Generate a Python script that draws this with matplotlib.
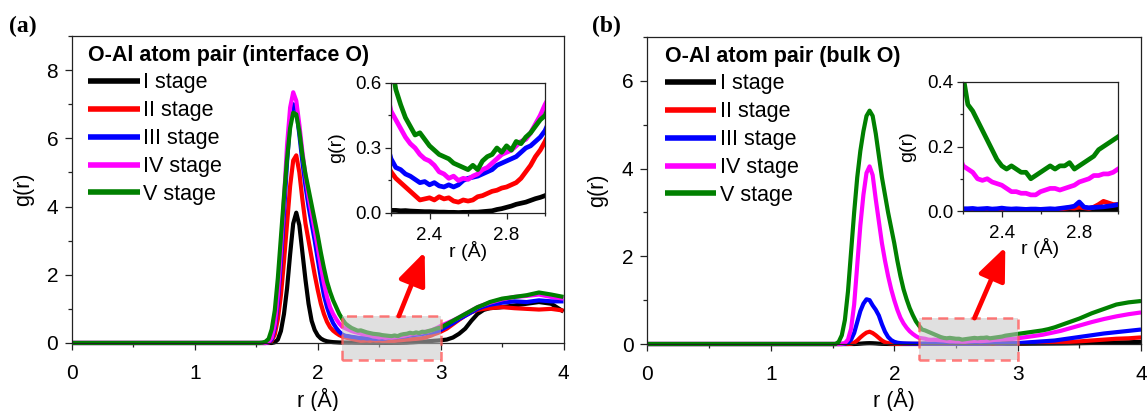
import numpy as np
import matplotlib
matplotlib.use("Agg")
import matplotlib.pyplot as plt
from matplotlib.patches import Rectangle
from matplotlib.ticker import MultipleLocator, FixedLocator

plt.rcParams['font.family'] = ['Liberation Sans', 'DejaVu Sans']

# shared r grid (Angstrom)
r = [0.0, 1.5, 1.525, 1.55, 1.575,
     1.6, 1.625, 1.65, 1.675, 1.7, 1.725, 1.75, 1.775, 1.8, 1.825, 1.85, 1.875, 1.9,
     1.925, 1.95, 1.975, 2.0, 2.025, 2.05, 2.075, 2.1, 2.125, 2.15, 2.175, 2.2,
     2.225, 2.25, 2.275, 2.3, 2.325, 2.35, 2.375, 2.4, 2.425, 2.45, 2.475, 2.5,
     2.525, 2.55, 2.575, 2.6, 2.625, 2.65, 2.675, 2.7, 2.725, 2.75, 2.775, 2.8,
     2.825, 2.85, 2.875, 2.9, 2.925, 2.95, 2.975, 3.0,
     3.05, 3.1, 3.15, 3.2, 3.25, 3.3, 3.35, 3.4, 3.5, 3.6, 3.7, 3.8, 3.9, 4.0]

stages = ['I stage', 'II stage', 'III stage', 'IV stage', 'V stage']
colors = ['black', '#ff0000', '#0000ff', '#ff00ff', '#008000']

# (a) interface O
ga_I = [0, 0, 0, 0, 0,
        0, 0, 0.02, 0.1, 0.35, 0.85, 1.6, 2.6, 3.5, 3.82, 3.45, 2.65, 1.85, 1.15, 0.65, 0.38,
        0.22, 0.13, 0.08, 0.05, 0.035, 0.025, 0.02, 0.015, 0.012,
        0.012, 0.01, 0.011, 0.009, 0.008, 0.007, 0.006, 0.006, 0.005, 0.004, 0.004, 0.003,
        0.003, 0.002, 0.003, 0.003, 0.004, 0.004, 0.006, 0.008, 0.01, 0.016, 0.02, 0.026,
        0.032, 0.04, 0.045, 0.05, 0.058, 0.066, 0.072, 0.08,
        0.1, 0.16, 0.27, 0.42, 0.65, 0.85, 0.97, 1.02, 1.05, 1.1, 1.15, 1.2, 1.15, 0.92]
ga_II = [0, 0, 0, 0, 0,
         0.01, 0.06, 0.25, 0.7, 1.4, 2.4, 3.5, 4.6, 5.35, 5.5, 5.0, 4.2, 3.5, 3.0, 2.5, 2.0,
         1.55, 1.15, 0.85, 0.62, 0.46, 0.36, 0.29, 0.23, 0.19,
         0.16, 0.14, 0.12, 0.1, 0.08, 0.06, 0.065, 0.07, 0.06, 0.075, 0.065, 0.07,
         0.055, 0.05, 0.06, 0.055, 0.06, 0.075, 0.08, 0.09, 0.1, 0.105, 0.115, 0.12,
         0.13, 0.14, 0.16, 0.19, 0.22, 0.26, 0.29, 0.33,
         0.42, 0.55, 0.68, 0.8, 0.9, 0.97, 1.0, 1.02, 1.05, 1.02, 1.0, 0.98, 1.0, 0.95]
ga_III = [0, 0, 0, 0, 0,
          0.02, 0.1, 0.45, 1.2, 2.4, 3.8, 5.3, 6.5, 7.0, 6.85, 6.1, 5.3, 4.6, 4.0, 3.5, 3.0,
          2.45, 1.9, 1.4, 1.05, 0.78, 0.58, 0.44, 0.33, 0.25,
          0.21, 0.2, 0.18, 0.17, 0.155, 0.14, 0.145, 0.13, 0.14, 0.125, 0.12, 0.13,
          0.12, 0.13, 0.15, 0.16, 0.165, 0.17, 0.18, 0.19, 0.2, 0.22, 0.23, 0.24,
          0.25, 0.26, 0.28, 0.3, 0.31, 0.33, 0.35, 0.38,
          0.48, 0.58, 0.7, 0.8, 0.9, 1.0, 1.07, 1.12, 1.18, 1.22, 1.2, 1.25, 1.22, 1.22]
ga_IV = [0, 0, 0, 0, 0,
         0.03, 0.15, 0.55, 1.4, 2.7, 4.2, 5.8, 6.9, 7.35, 7.1, 6.4, 5.6, 4.9, 4.3, 3.8, 3.3,
         2.8, 2.25, 1.75, 1.35, 1.05, 0.85, 0.7, 0.57, 0.47,
         0.43, 0.39, 0.35, 0.32, 0.3, 0.27, 0.25, 0.24, 0.22, 0.19, 0.18, 0.16,
         0.17, 0.15, 0.16, 0.155, 0.17, 0.18, 0.2, 0.21, 0.23, 0.25, 0.27, 0.28,
         0.29, 0.31, 0.33, 0.34, 0.37, 0.41, 0.45, 0.5,
         0.58, 0.66, 0.75, 0.85, 0.95, 1.05, 1.12, 1.18, 1.28, 1.35, 1.38, 1.42, 1.35, 1.3]
ga_V = [0, 0, 0, 0.01, 0.04,
        0.12, 0.4, 0.95, 1.9, 3.1, 4.3, 5.4, 6.3, 6.75, 6.7, 6.2, 5.5, 4.95, 4.5, 4.05, 3.6,
        3.15, 2.65, 2.2, 1.8, 1.5, 1.25, 1.05, 0.85, 0.7,
        0.57, 0.5, 0.44, 0.4, 0.36, 0.37, 0.34, 0.31, 0.29, 0.27, 0.26, 0.25,
        0.23, 0.22, 0.21, 0.2, 0.22, 0.2, 0.24, 0.26, 0.27, 0.3, 0.28, 0.31,
        0.29, 0.33, 0.32, 0.35, 0.37, 0.4, 0.43, 0.45,
        0.55, 0.65, 0.75, 0.85, 0.95, 1.05, 1.12, 1.2, 1.3, 1.35, 1.4, 1.48, 1.42, 1.35]

# (b) bulk O
gb_I = [0, 0, 0, 0, 0,
        0, 0, 0, 0, 0.003, 0.008, 0.014, 0.018, 0.02, 0.018, 0.014, 0.008, 0.004, 0.002, 0.001, 0,
        0, 0, 0, 0, 0, 0, 0, 0, 0,
        0.002, 0.002, 0.002, 0.002, 0.002, 0.002, 0.002, 0.002, 0.002, 0.002, 0.002, 0.002,
        0.002, 0.002, 0.002, 0.002, 0.002, 0.002, 0.002, 0.002, 0.002, 0.002, 0.002, 0.002,
        0.003, 0.003, 0.004, 0.004, 0.004, 0.005, 0.005, 0.005,
        0.006, 0.008, 0.009, 0.01, 0.011, 0.012, 0.013, 0.015, 0.02, 0.025, 0.03, 0.035, 0.04, 0.05]
gb_II = [0, 0, 0, 0, 0,
         0, 0, 0.005, 0.03, 0.08, 0.15, 0.21, 0.26, 0.28, 0.25, 0.2, 0.14, 0.08, 0.04, 0.02, 0.01,
         0.005, 0.003, 0.003, 0.003, 0.003, 0.003, 0.003, 0.003, 0.003,
         0.003, 0.004, 0.003, 0.004, 0.006, 0.004, 0.003, 0.003, 0.003, 0.004, 0.003, 0.003,
         0.004, 0.003, 0.003, 0.004, 0.003, 0.004, 0.005, 0.006, 0.008, 0.01, 0.009, 0.012,
         0.01, 0.008, 0.012, 0.02, 0.03, 0.025, 0.02, 0.02,
         0.02, 0.025, 0.027, 0.03, 0.032, 0.035, 0.04, 0.045, 0.06, 0.08, 0.1, 0.12, 0.13, 0.15]
gb_III = [0, 0, 0, 0, 0,
          0.005, 0.03, 0.1, 0.25, 0.5, 0.75, 0.92, 1.02, 1.0, 0.88, 0.78, 0.65, 0.45, 0.28, 0.16, 0.09,
          0.05, 0.03, 0.02, 0.015, 0.012, 0.01, 0.008, 0.007, 0.007,
          0.007, 0.008, 0.006, 0.007, 0.008, 0.006, 0.007, 0.009, 0.007, 0.006, 0.007, 0.006,
          0.005, 0.006, 0.006, 0.005, 0.006, 0.007, 0.006, 0.008, 0.01, 0.012, 0.015, 0.028,
          0.012, 0.01, 0.011, 0.012, 0.013, 0.015, 0.017, 0.02,
          0.03, 0.04, 0.05, 0.06, 0.07, 0.08, 0.1, 0.12, 0.16, 0.2, 0.24, 0.27, 0.3, 0.33]
gb_IV = [0, 0, 0, 0, 0.005,
         0.02, 0.1, 0.35, 0.9, 1.8, 2.7, 3.4, 3.9, 4.05, 3.85, 3.3, 2.8, 2.3, 1.9, 1.55, 1.25,
         1.0, 0.78, 0.6, 0.47, 0.37, 0.29, 0.23, 0.18, 0.14,
         0.13, 0.12, 0.1, 0.095, 0.1, 0.09, 0.085, 0.08, 0.07, 0.06, 0.06, 0.055,
         0.055, 0.05, 0.05, 0.06, 0.065, 0.07, 0.07, 0.065, 0.07, 0.075, 0.08, 0.09,
         0.095, 0.1, 0.11, 0.11, 0.115, 0.115, 0.12, 0.13,
         0.15, 0.17, 0.19, 0.21, 0.24, 0.27, 0.3, 0.34, 0.42, 0.5, 0.57, 0.63, 0.68, 0.72]
gb_V = [0, 0, 0, 0.05, 0.2,
        0.55, 1.2, 2.1, 3.0, 3.8, 4.4, 4.85, 5.2, 5.32, 5.2, 4.8, 4.3, 3.8, 3.4, 3.0, 2.65,
        2.3, 1.9, 1.55, 1.25, 1.02, 0.82, 0.66, 0.52, 0.42,
        0.33, 0.31, 0.28, 0.25, 0.22, 0.19, 0.16, 0.14, 0.13, 0.14, 0.13, 0.12,
        0.12, 0.1, 0.11, 0.12, 0.13, 0.14, 0.13, 0.14, 0.14, 0.15, 0.13, 0.14,
        0.15, 0.16, 0.17, 0.19, 0.2, 0.21, 0.22, 0.23,
        0.25, 0.27, 0.29, 0.31, 0.34, 0.38, 0.43, 0.48, 0.58, 0.7, 0.8, 0.9, 0.95, 0.98]


def style_axis(ax, size, major, minor, pad_x, pad_y):
    for s in ax.spines.values():
        s.set_linewidth(0.9)
        s.set_color('#222222')
    ax.tick_params(which='both', direction='out', top=False, right=False,
                   labelsize=size, width=0.9, color='#222222')
    ax.tick_params(which='major', length=major)
    ax.tick_params(which='minor', length=minor)
    ax.tick_params(axis='x', pad=pad_x)
    ax.tick_params(axis='y', pad=pad_y)


def panel(rect, irect, data, ymax, ystep, iymax, iystep, box_top, box_bot,
          tail, head, title, lx, ylab_x, xlab_y, iylab_x):
    ax = fig.add_axes(rect)
    for g, c, lab in zip(data, colors, stages):
        ax.plot(r, g, color=c, lw=3.0, label=lab, clip_on=False, solid_capstyle='butt')
    ax.set_xlim(0, 4)
    ax.set_ylim(0, ymax)
    ax.xaxis.set_major_locator(MultipleLocator(1))
    ax.xaxis.set_minor_locator(MultipleLocator(0.5))
    ax.yaxis.set_major_locator(MultipleLocator(ystep))
    ax.yaxis.set_minor_locator(MultipleLocator(ystep / 2))
    style_axis(ax, 15, 5, 3, 10, 5)
    ax.set_xlabel('r (Å)', fontsize=15.5)
    ax.set_ylabel('g(r)', fontsize=15.5)
    ax.xaxis.set_label_coords(0.5, xlab_y)
    ax.xaxis.label.set_va('center')
    ax.yaxis.set_label_coords(ylab_x, 0.5)
    ax.yaxis.label.set_va('center')

    leg = ax.legend(loc='upper left', bbox_to_anchor=(lx, 0.972), frameon=False,
                    fontsize=15.5, title=title,
                    title_fontproperties={'weight': 'bold', 'size': 15.5},
                    handlelength=2.4, handletextpad=0.15, labelspacing=0.32,
                    borderpad=0, borderaxespad=0, alignment='left')
    for hl in leg.get_lines():
        hl.set_linewidth(4.0)

    # highlighted window
    ax.add_patch(Rectangle((2.2, box_bot), 0.8, box_top - box_bot, facecolor='#c8c8c8',
                           alpha=0.55, edgecolor='none', clip_on=False, zorder=5))
    ax.add_patch(Rectangle((2.2, box_bot), 0.8, box_top - box_bot, facecolor='none',
                           edgecolor='#ff5a5a', alpha=0.8, lw=1.8, ls=(0, (4, 2.5)),
                           clip_on=False, zorder=6))
    ax.annotate('', xy=head, xytext=tail, zorder=7,
                arrowprops=dict(arrowstyle='-|>,head_length=1.0,head_width=0.42',
                                mutation_scale=20, lw=3.4, color='#ff0000',
                                shrinkA=0, shrinkB=0))

    ins = fig.add_axes(irect)
    for g, c in zip(data, colors):
        ins.plot(r, g, color=c, lw=3.4)
    ins.set_xlim(2.2, 3.0)
    ins.set_ylim(0, iymax)
    ins.xaxis.set_major_locator(FixedLocator([2.4, 2.8]))
    ins.xaxis.set_minor_locator(FixedLocator([2.2, 2.6, 3.0]))
    ins.yaxis.set_major_locator(MultipleLocator(iystep))
    ins.yaxis.set_minor_locator(MultipleLocator(iystep / 2))
    ins.yaxis.set_major_formatter('{x:.1f}')
    ins.xaxis.set_major_formatter('{x:.1f}')
    style_axis(ins, 13.5, 4, 2.5, 6, 3)
    ins.set_xlabel('r (Å)', fontsize=14)
    ins.set_ylabel('g(r)', fontsize=14)
    ins.xaxis.set_label_coords(0.5, -0.29)
    ins.xaxis.label.set_va('center')
    ins.yaxis.set_label_coords(iylab_x, 0.5)
    ins.yaxis.label.set_va('center')
    return ax


fig = plt.figure(figsize=(11.47, 4.11), dpi=100)

panel([0.0628, 0.1655, 0.4285, 0.747], [0.3409, 0.4818, 0.1343, 0.3163],
      [ga_I, ga_II, ga_III, ga_IV, ga_V], 9, 2, 0.6, 0.3, 0.79, -0.5,
      (2.66, 0.79), (2.87, 2.67), 'O-Al atom pair (interface O)', 0.033,
      -0.098, -0.186, -0.35)
panel([0.5645, 0.163, 0.4303, 0.747], [0.8396, 0.4866, 0.1351, 0.3139],
      [gb_I, gb_II, gb_III, gb_IV, gb_V], 7, 2, 0.4, 0.2, 0.59, -0.36,
      (2.65, 0.59), (2.90, 2.21), 'O-Al atom pair (bulk O)', 0.035,
      -0.101, -0.182, -0.36)

fig.text(0.008, 0.935, '(a)', fontsize=17, fontweight='bold', va='center',
         family=['Liberation Serif', 'DejaVu Serif'])
fig.text(0.516, 0.935, '(b)', fontsize=17, fontweight='bold', va='center',
         family=['Liberation Serif', 'DejaVu Serif'])

fig.savefig('out.png', dpi=100)
